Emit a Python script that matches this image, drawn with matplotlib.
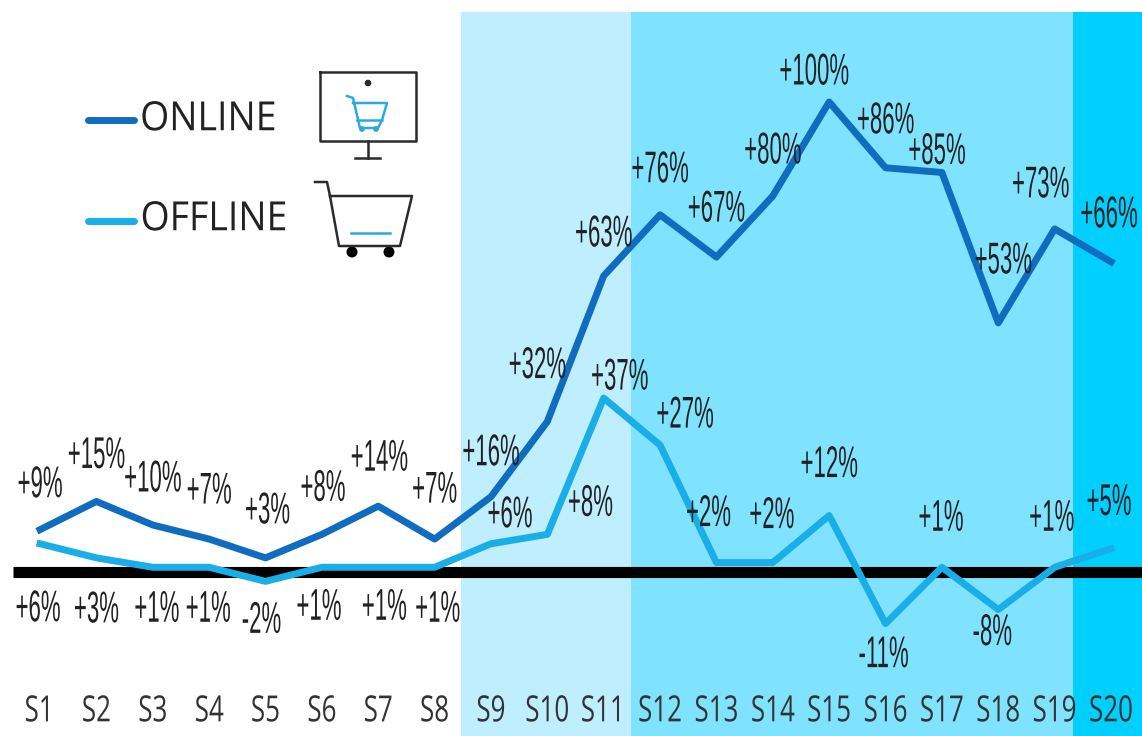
import numpy as np
import matplotlib
matplotlib.use('Agg')
import matplotlib.pyplot as plt
from matplotlib.patches import Circle
from matplotlib.patheffects import AbstractPathEffect
from matplotlib.transforms import Affine2D

seasons = ['S%d' % i for i in range(1, 21)]
online = [9, 15, 10, 7, 3, 8, 14, 7, 16, 32, 63, 76, 67, 80, 100, 86, 85, 53, 73, 66]
offline = [6, 3, 1, 1, -2, 1, 1, 1, 6, 8, 37, 27, 2, 2, 12, -11, 1, -8, 1, 5]

# label offsets from the point, in pixels
online_dx = [0, 0, 0, 0, 2, 1, 1, 0, 0, -10, 0, 0, 0, 0, -15, 0, -5, 5, -14, -2]
online_dy = [44, 45, 45, 47, 46, 45, 47, 48, 43, 55, 41, 44, 47, 44, 29, 46, 20, 61, 43, 46]
offline_dx = [-2, 0, 4, -1, -4, -3, 6, 3, 19, 43, 16, 25, -8, -1, 0, -2, -1, -6, -3, -2]
offline_dy = [-66, -53, -43, -43, -40, -41, -41, -43, 28, 30, 20, 29, 48, 46, 50, -32, 48, -24, 48, 45]

BLUE_ONLINE = '#0f6cbf'
BLUE_OFFLINE = '#1aaee8'
TEXT = '#222222'


class Squeeze(AbstractPathEffect):
    # the reference uses a condensed face, so narrow the glyphs around their centre
    def __init__(self, sx):
        super().__init__()
        self.sx = sx

    def draw_path(self, renderer, gc, tpath, affine, rgbFace=None):
        ext = tpath.get_extents()
        cx = (ext.x0 + ext.x1) / 2
        squeeze = Affine2D().translate(-cx, 0).scale(self.sx, 1).translate(cx, 0)
        renderer.draw_path(gc, tpath, squeeze + affine, rgbFace)


def pct(v):
    return '%+d%%' % v


fig = plt.figure(figsize=(11.42, 7.36), dpi=100)
ax = fig.add_axes([0, 0, 1, 1])
ax.set_xlim(0.29, 20.55)
ax.set_ylim(-34.9, 121.7)
for s in ax.spines.values():
    s.set_visible(False)
ax.set_yticks([])

top = 1 - 12 / 736
ax.axvspan(8.47, 11.48, ymax=top, color='#bfefff', lw=0)
ax.axvspan(11.48, 19.33, ymax=top, color='#7fe3ff', lw=0)
ax.axvspan(19.33, 20.55, ymax=top, color='#00cfff', lw=0)

ax.plot([0.52, 20.55], [0, 0], color='black', lw=8, solid_capstyle='butt', zorder=2)

x = np.arange(1, 21)
ax.plot(x, online, color=BLUE_ONLINE, lw=5, solid_joinstyle='round', zorder=3)
ax.plot(x, offline, color=BLUE_OFFLINE, lw=5, solid_joinstyle='round', zorder=4)

for i in range(20):
    ax.annotate(pct(online[i]), (x[i], online[i]), xytext=(online_dx[i], online_dy[i]),
                textcoords='offset pixels', ha='center', va='center', fontsize=32,
                family='Liberation Sans', color=TEXT, path_effects=[Squeeze(0.5)], zorder=5)
    ax.annotate(pct(offline[i]), (x[i], offline[i]), xytext=(offline_dx[i], offline_dy[i]),
                textcoords='offset pixels', ha='center', va='center', fontsize=32,
                family='Liberation Sans', color=TEXT, path_effects=[Squeeze(0.5)], zorder=5)

ax.set_xticks(x, seasons)
ax.tick_params(axis='x', length=0, direction='in', pad=-30)
for lab in ax.get_xticklabels():
    lab.set_family('Open Sans')
    lab.set_fontsize(26)
    lab.set_color('#333333')
    lab.set_path_effects([Squeeze(0.72)])

# legend and icons, drawn in pixel space
ov = fig.add_axes([0, 0, 1, 1])
ov.set_xlim(0, 1142)
ov.set_ylim(736, 0)
ov.axis('off')

ov.plot([88, 134], [120, 120], color=BLUE_ONLINE, lw=5, solid_capstyle='round')
ov.plot([88, 134], [221, 221], color=BLUE_OFFLINE, lw=5, solid_capstyle='round')
ov.text(135, 120, 'ONLINE', family='Open Sans', fontsize=29, color=TEXT, ha='left', va='center',
        path_effects=[Squeeze(0.93)])
ov.text(135, 220, 'OFFLINE', family='Open Sans', fontsize=29, color=TEXT, ha='left', va='center',
        path_effects=[Squeeze(0.93)])

# monitor
ICON = '#2b2b2b'
CART = '#29abe2'
ov.plot([320, 416, 416, 320, 320], [72, 72, 141, 141, 72], color=ICON, lw=1.8)
ov.plot([368, 368], [141, 158], color=ICON, lw=1.8)
ov.plot([355, 380], [158, 158], color=ICON, lw=1.8)
ov.add_patch(Circle((368, 83), 2.6, color=ICON))
ov.plot([347, 353, 360, 378, 382, 387, 353], [96, 98, 128, 128, 120, 103, 103], color=CART, lw=1.8)
ov.plot([357, 382], [120, 120], color=CART, lw=1.8)
ov.add_patch(Circle((362, 129), 2.2, color=CART))
ov.add_patch(Circle((376, 129), 2.2, color=CART))

# cart
ov.plot([315, 327, 330, 339, 400, 412, 330], [182, 182, 196, 246, 246, 196, 196], color=ICON, lw=1.8)
ov.plot([351, 390], [233, 233], color=CART, lw=1.8)
ov.add_patch(Circle((352, 252), 4.8, color='black'))
ov.add_patch(Circle((389, 252), 4.8, color='black'))

plt.savefig('out.png', dpi=100)
